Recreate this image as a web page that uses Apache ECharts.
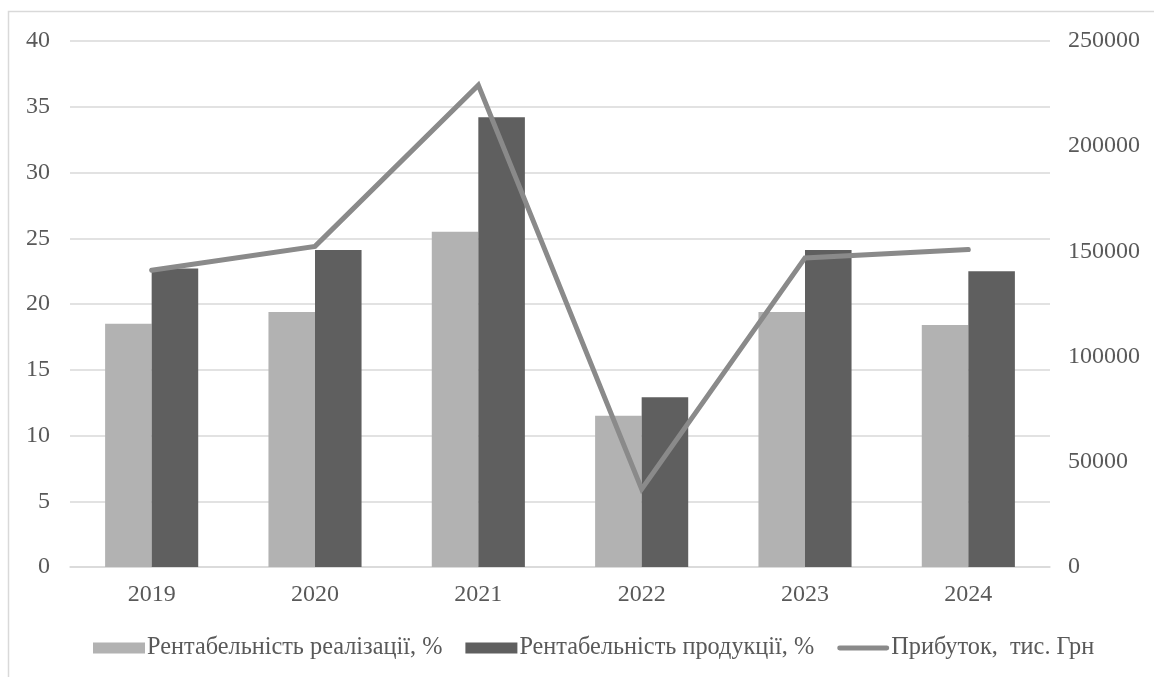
<!DOCTYPE html>
<html>
<head>
<meta charset="utf-8">
<script src="https://cdn.jsdelivr.net/npm/echarts@6/dist/echarts.min.js"></script>
<style>
  html, body { margin: 0; padding: 0; background: #ffffff; }
  #chart { width: 1154px; height: 677px; }
</style>
</head>
<body>
<div id="chart"></div>
<script>
// Роки
const years = ['2019', '2020', '2021', '2022', '2023', '2024'];
// Рентабельність реалізації, %
const salesProfitability = [18.5, 19.4, 25.5, 11.5, 19.4, 18.4];
// Рентабельність продукції, %
const productProfitability = [22.7, 24.1, 34.2, 12.9, 24.1, 22.5];
// Прибуток, тис. грн
const profit = [141000, 152400, 229000, 37000, 146900, 150900];

const seriesNames = ['Рентабельність реалізації, %', 'Рентабельність продукції, %', 'Прибуток,  тис. Грн'];

const FONT = "'Liberation Serif', 'Times New Roman', serif";
const TEXT_COLOR = '#595959';
// Legend marker for the line: a bar with rounded ends
const LINE_ICON = 'path://M2.5,0 L50.5,0 A2.5,2.5 0 0 1 50.5,5 L2.5,5 A2.5,2.5 0 0 1 2.5,0 Z';

const chart = echarts.init(document.getElementById('chart'), null, { renderer: 'canvas' });

chart.setOption({
  backgroundColor: '#ffffff',
  animation: false,
  textStyle: { fontFamily: FONT },
  graphic: [{
    type: 'rect',
    shape: { x: 8.5, y: 11.5, width: 1200, height: 700 },
    style: { fill: 'none', stroke: '#d9d9d9', lineWidth: 1.5 },
    silent: true
  }],
  grid: { left: 70, right: 104, top: 41, bottom: 110, containLabel: false },
  legend: {
    top: 631,
    left: 88,
    itemWidth: 52,
    itemHeight: 11,
    itemGap: 23,
    textStyle: { fontFamily: FONT, fontSize: 24.3, color: TEXT_COLOR, padding: [0, 0, 0, -3] },
    data: [
      { name: seriesNames[0], icon: 'rect' },
      { name: seriesNames[1], icon: 'rect' },
      { name: seriesNames[2], icon: LINE_ICON }
    ]
  },
  xAxis: {
    type: 'category',
    data: years,
    axisLine: { lineStyle: { color: '#d9d9d9', width: 1.5 } },
    axisTick: { show: false },
    axisLabel: { color: TEXT_COLOR, fontSize: 24, fontFamily: FONT, margin: 16 }
  },
  yAxis: [
    {
      type: 'value', min: 0, max: 40, interval: 5,
      axisLine: { show: false }, axisTick: { show: false },
      splitLine: { lineStyle: { color: '#d9d9d9', width: 1.5 } },
      axisLabel: { color: TEXT_COLOR, fontSize: 24, fontFamily: FONT, margin: 20 }
    },
    {
      type: 'value', min: 0, max: 250000, interval: 50000,
      axisLine: { show: false }, axisTick: { show: false },
      splitLine: { show: false },
      axisLabel: {
        color: TEXT_COLOR, fontSize: 24, fontFamily: FONT, margin: 18,
        formatter: (v) => String(v)
      }
    }
  ],
  series: [
    {
      name: seriesNames[0], type: 'bar', data: salesProfitability,
      barGap: '0%', barCategoryGap: '43%',
      itemStyle: { color: '#b2b2b2' }
    },
    {
      name: seriesNames[1], type: 'bar', data: productProfitability,
      itemStyle: { color: '#5f5f5f' }
    },
    {
      name: seriesNames[2], type: 'line', yAxisIndex: 1, data: profit,
      symbol: 'none', smooth: false,
      itemStyle: { color: '#8a8a8a' },
      lineStyle: { color: '#8a8a8a', width: 5, cap: 'round', join: 'miter' }
    }
  ]
});
</script>
</body>
</html>
